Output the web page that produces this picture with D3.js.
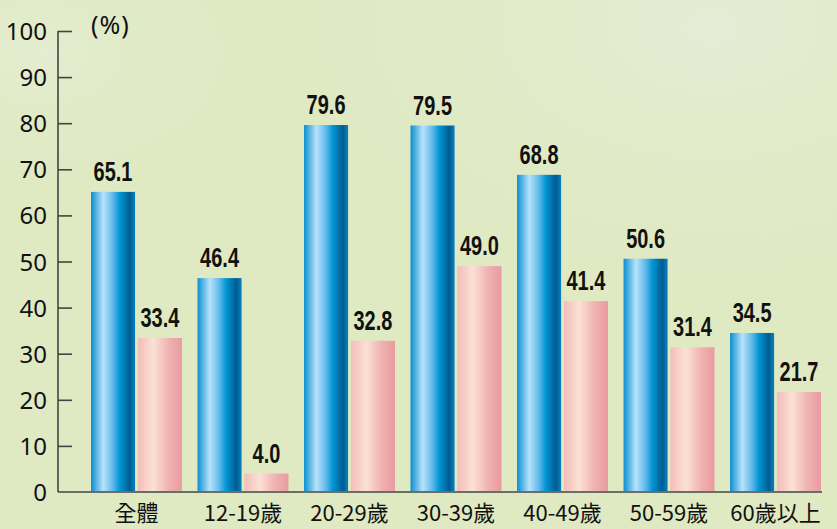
<!DOCTYPE html>
<html>
<head>
<meta charset="utf-8">
<script src="https://cdn.jsdelivr.net/npm/d3@7"></script>
<style>
  body { margin: 0; background: #dfe9c2; }
  svg { display: block; }
</style>
</head>
<body>
<div id="chart"></div>
<script>
// Data
const categories = ['全體', '12-19歲', '20-29歲', '30-39歲', '40-49歲', '50-59歲', '60歲以上'];
const seriesA = [65.1, 46.4, 79.6, 79.5, 68.8, 50.6, 34.5];
const seriesB = [33.4, 4.0, 32.8, 49.0, 41.4, 31.4, 21.7];
const yTicks = [0, 10, 20, 30, 40, 50, 60, 70, 80, 90, 100];

const width = 837;
const height = 529;

const svg = d3.select('#chart')
  .append('svg')
  .attr('width', width)
  .attr('height', height);

const defs = svg.append('defs');

// background glow
const bg = defs.append('radialGradient').attr('id', 'bgGlow')
  .attr('cx', '0.85').attr('cy', '0.05').attr('r', '0.6');
bg.append('stop').attr('offset', '0%').attr('stop-color', '#e6ecd6');
bg.append('stop').attr('offset', '100%').attr('stop-color', '#dfe9c2').attr('stop-opacity', 0);

const bg2 = defs.append('radialGradient').attr('id', 'bgGlow2')
  .attr('cx', '0.05').attr('cy', '0.1').attr('r', '0.3');
bg2.append('stop').attr('offset', '0%').attr('stop-color', '#e4edd0');
bg2.append('stop').attr('offset', '100%').attr('stop-color', '#dfe9c2').attr('stop-opacity', 0);

svg.append('rect').attr('width', width).attr('height', height).attr('fill', '#dfe9c2');
svg.append('rect').attr('width', width).attr('height', height).attr('fill', 'url(#bgGlow)');
svg.append('rect').attr('width', width).attr('height', height).attr('fill', 'url(#bgGlow2)');

// bar gradients
const blue = defs.append('linearGradient').attr('id', 'blueGrad')
  .attr('x1', '0').attr('x2', '1').attr('y1', '0').attr('y2', '0');
[['0%', '#0b8fd0'], ['28%', '#b8e3fb'], ['50%', '#5fb8ea'], ['65%', '#0096d5'], ['88%', '#005c90'], ['100%', '#0c80c2']]
  .forEach(s => blue.append('stop').attr('offset', s[0]).attr('stop-color', s[1]));

const pink = defs.append('linearGradient').attr('id', 'pinkGrad')
  .attr('x1', '0').attr('x2', '1').attr('y1', '0').attr('y2', '0');
[['0%', '#f3bdb9'], ['35%', '#fbe1d5'], ['70%', '#f0b2b1'], ['100%', '#e89ba0']]
  .forEach(s => pink.append('stop').attr('offset', s[0]).attr('stop-color', s[1]));

// Scales
const y = d3.scaleLinear().domain([0, 100]).range([492, 31]);

const x0 = d3.scaleBand()
  .domain(categories)
  .range([91, 821])
  .paddingInner(0.146)
  .paddingOuter(0);

const x1 = d3.scaleBand()
  .domain(['a', 'b'])
  .range([0, x0.bandwidth()])
  .paddingInner(0.06);

// Axis
const axisX = 58;
const yAxis = d3.axisRight(y).tickValues(yTicks.slice(1)).tickSize(14).tickFormat('');
svg.append('g')
  .attr('transform', `translate(${axisX},0)`)
  .call(yAxis)
  .call(g => g.select('.domain').remove())
  .call(g => g.selectAll('line').attr('stroke', '#444').attr('stroke-width', 1.6));

svg.append('line')
  .attr('x1', axisX).attr('x2', axisX)
  .attr('y1', y(100)).attr('y2', y(0))
  .attr('stroke', '#444').attr('stroke-width', 1.6);

svg.append('line')
  .attr('x1', axisX).attr('x2', 822)
  .attr('y1', y(0)).attr('y2', y(0))
  .attr('stroke', '#444').attr('stroke-width', 1.6);

// tick labels
svg.selectAll('.ylab')
  .data(yTicks)
  .enter().append('text')
  .attr('class', 'ylab')
  .attr('x', 47)
  .attr('y', d => y(d) + 9)
  .attr('text-anchor', 'end')
  .style('font-family', '"Noto Sans", "Open Sans", sans-serif')
  .style('font-size', '24px')
  .style('fill', '#111')
  .text(d => d);

svg.append('text')
  .attr('x', 91)
  .attr('y', 34)
  .style('font-family', '"Noto Sans", sans-serif')
  .style('font-size', '25px')
  .style('letter-spacing', '1px')
  .style('fill', '#111')
  .text('(%)');

// Bars
const groups = svg.selectAll('.grp')
  .data(categories.map((c, i) => ({ c: c, a: seriesA[i], b: seriesB[i] })))
  .enter().append('g')
  .attr('class', 'grp')
  .attr('transform', d => `translate(${x0(d.c)},0)`);

const bars = groups.selectAll('.bar')
  .data(d => [{ k: 'a', v: d.a }, { k: 'b', v: d.b }])
  .enter();

bars.append('rect')
  .attr('x', d => x1(d.k))
  .attr('y', d => y(d.v))
  .attr('width', x1.bandwidth())
  .attr('height', d => y(0) - y(d.v) - 1)
  .attr('fill', d => d.k === 'a' ? 'url(#blueGrad)' : 'url(#pinkGrad)');

// value labels, squeezed to look like a condensed face
bars.append('text')
  .attr('transform', d => `translate(${x1(d.k) + x1.bandwidth() / 2},${y(d.v) - 11}) scale(0.74,1)`)
  .attr('text-anchor', 'middle')
  .style('font-family', '"Liberation Sans", Arial, sans-serif')
  .style('font-weight', 'bold')
  .style('font-size', '27px')
  .style('fill', '#111')
  .text(d => d.v.toFixed(1));

// Category labels
svg.selectAll('.xlab')
  .data(categories)
  .enter().append('text')
  .attr('class', 'xlab')
  .attr('x', d => x0(d) + x0.bandwidth() / 2)
  .attr('y', 521)
  .attr('text-anchor', 'middle')
  .style('font-family', '"Noto Sans CJK TC", "Noto Sans", sans-serif')
  .style('font-size', '22px')
  .style('fill', '#111')
  .text(d => d);
</script>
</body>
</html>
